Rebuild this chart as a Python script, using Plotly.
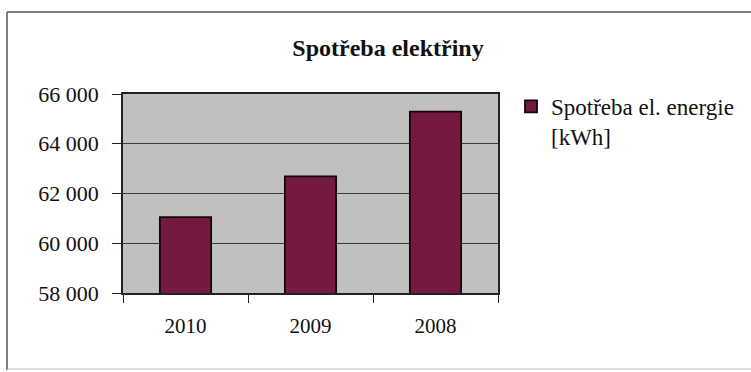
import plotly.graph_objects as go

years = ["2010", "2009", "2008"]
consumption = [61050, 62690, 65290]
series_name = "Spotřeba el. energie<br>[kWh]"
chart_title = "Spotřeba elektřiny"
y_ticks = [58000, 60000, 62000, 64000, 66000]

W, H = 751, 372
L, R, T, B = 123, 498, 94, 293

def px(x):
    return (x - L) / (R - L)

def py(y):
    return (B - y) / (B - T)

serif = "Liberation Serif"

fig = go.Figure()
fig.add_trace(go.Bar(
    x=years, y=consumption, name=series_name,
    marker=dict(color="#741a40", line=dict(color="#140608", width=1.8)),
    showlegend=True,
))

fig.update_layout(
    width=W, height=H,
    margin=dict(l=L, r=W - R, t=T, b=H - B, pad=0),
    paper_bgcolor="white",
    plot_bgcolor="#c0c0c0",
    separators=", ",
    bargap=0.59,
    font=dict(family=serif, color="#111111", size=20),
    title=dict(text="<b>" + chart_title + "</b>", x=388 / W, xref="container",
               xanchor="center", y=1 - 48 / H, yref="container", yanchor="middle",
               font=dict(family=serif, size=24, color="#111111")),
    showlegend=True,
    legend=dict(x=px(511), y=py(85), xanchor="left", yanchor="top",
                valign="top", font=dict(family=serif, size=23, color="#111111"),
                bgcolor="rgba(0,0,0,0)", itemwidth=30, tracegroupgap=0),
    xaxis=dict(type="category", showgrid=False, ticks="outside", tickson="boundaries",
               ticklen=8, tickcolor="#222222", showline=True, linecolor="#222222",
               linewidth=1.5, mirror=True, ticklabelstandoff=13,
               tickfont=dict(family=serif, size=21, color="#111111")),
    yaxis=dict(range=[58000, 66000], tickvals=y_ticks, tickformat=",d",
               showgrid=True, gridcolor="#3a3a3a", gridwidth=1,
               ticks="outside", ticklen=9, tickcolor="#222222",
               showline=True, linecolor="#222222", linewidth=1.5, mirror=True,
               zeroline=False, ticklabelstandoff=9,
               tickfont=dict(family=serif, size=22, color="#111111")),
    shapes=[
        dict(type="line", xref="paper", yref="paper",
             x0=px(7), x1=px(7), y0=py(370), y1=py(12),
             line=dict(color="#555555", width=1.5), layer="below"),
        dict(type="line", xref="paper", yref="paper",
             x0=px(7), x1=px(751), y0=py(12), y1=py(12),
             line=dict(color="#555555", width=1.5), layer="below"),
        dict(type="line", xref="paper", yref="paper",
             x0=px(7), x1=px(751), y0=py(369), y1=py(369),
             line=dict(color="#bbbbbb", width=1), layer="below"),
    ],
)

fig.write_html("out.html")
